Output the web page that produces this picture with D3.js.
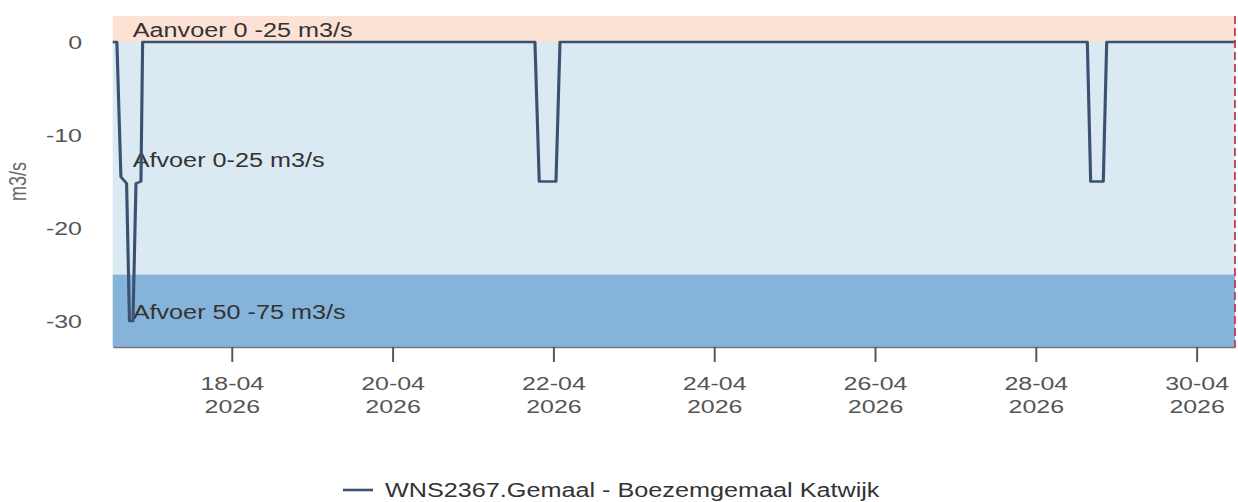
<!DOCTYPE html>
<html><head><meta charset="utf-8">
<script src="https://cdn.jsdelivr.net/npm/d3@7"></script>
<style>html,body{margin:0;padding:0;background:#fff;overflow:hidden}</style>
</head><body>
<svg id="chart" width="1238" height="502"></svg>
<script>
// ---- data ----
const times = [
  "2026-04-16T12:30","2026-04-16T13:45","2026-04-16T14:57","2026-04-16T16:39",
  "2026-04-16T17:30","2026-04-16T18:33","2026-04-16T19:27","2026-04-16T20:56",
  "2026-04-16T21:26","2026-04-21T18:32","2026-04-21T19:49","2026-04-22T00:49",
  "2026-04-22T02:01","2026-04-28T15:25","2026-04-28T16:25","2026-04-28T20:11",
  "2026-04-28T21:12","2026-04-30T11:30"
];
const values = [0,0,-14.5,-15.2,-30,-30,-15.2,-15,0,0,-15,-15,0,0,-15,-15,0,0];
const seriesName = "WNS2367.Gemaal - Boezemgemaal Katwijk";
const bandNames = ["Aanvoer 0 -25 m3/s","Afvoer 0-25 m3/s","Afvoer 50 -75 m3/s"];
const bandHigh = [25, 0, -25];
const bandLow = [0, -25, -75];
const bandColors = ["#fce2d5","#dbe9f2","#85b3d9"];
const xTickDates = ["2026-04-18","2026-04-20","2026-04-22","2026-04-24","2026-04-26","2026-04-28","2026-04-30"];
const yTicks = [0,-10,-20,-30];
const xDomain = ["2026-04-16T12:30","2026-04-30T11:30"];
const yDomain = [-32.8, 2.8];
const nowMarker = "2026-04-30T11:30";
const yLabel = "m3/s";

// ---- layout (viewBox stretched horizontally) ----
const S = 1.3;
const W = 1238 / S, H = 502;
const parse = d3.timeParse("%Y-%m-%dT%H:%M");
const parseDay = d3.timeParse("%Y-%m-%d");
const svg = d3.select("#chart").attr("viewBox", `0 0 ${W} ${H}`).attr("preserveAspectRatio","none");
const m = {left: 112.7 / S, right: 1235 / S, top: 16, bottom: 347};
const x = d3.scaleTime().domain(xDomain.map(parse)).range([m.left, m.right]);
const y = d3.scaleLinear().domain(yDomain).range([m.bottom, m.top]);
const font = "'Liberation Sans', Arial, sans-serif";

// bands
const clamp = v => Math.max(yDomain[0], Math.min(yDomain[1], v));
const bands = bandNames.map((n,i)=>({name:n, hi:clamp(bandHigh[i]), lo:clamp(bandLow[i]), color:bandColors[i]}));
svg.append("g").selectAll("rect").data(bands).join("rect")
  .attr("x", m.left).attr("width", m.right - m.left)
  .attr("y", d => y(d.hi)).attr("height", d => y(d.lo) - y(d.hi))
  .attr("fill", d => d.color);

// x axis
const xa = svg.append("g").attr("transform", `translate(0,${m.bottom})`)
  .call(d3.axisBottom(x).tickValues(xTickDates.map(parseDay)).tickSize(15).tickSizeOuter(0).tickFormat(""));
xa.select(".domain").attr("stroke","#777").attr("stroke-width",1.5);
xa.selectAll(".tick line").attr("stroke","#555").attr("stroke-width",1.5);
const fmt1 = d3.timeFormat("%d-%m"), fmt2 = d3.timeFormat("%Y");
xa.selectAll(".tick").append("text").attr("fill","#555").attr("font-family",font).attr("font-size",19.2)
  .attr("text-anchor","middle")
  .each(function(d){
    const t = d3.select(this);
    t.append("tspan").attr("x",0).attr("y",390 - m.bottom).text(fmt1(d));
    t.append("tspan").attr("x",0).attr("y",413 - m.bottom).text(fmt2(d));
  });

// y axis labels
const ya = svg.append("g").attr("transform", `translate(${82/S},0)`)
  .call(d3.axisLeft(y).tickValues(yTicks).tickSize(0).tickPadding(0).tickFormat(d => String(d)));
ya.select(".domain").remove();
ya.selectAll("text").attr("fill","#555").attr("font-family",font).attr("font-size",19.2).attr("dy","0.35em");

svg.append("text").attr("transform", `translate(${17.5/S},${(m.top+m.bottom)/2}) rotate(-90)`)
  .attr("text-anchor","middle").attr("dy","0.35em").attr("fill","#6a6a6a")
  .attr("font-family",font).attr("font-size",18).text(yLabel);

// band labels
svg.append("g").selectAll("text").data(bands).join("text")
  .attr("x", m.left + 20/S).attr("y", d => (y(d.hi)+y(d.lo))/2 + 1.5).attr("dy","0.35em")
  .attr("fill","#333").attr("font-family",font).attr("font-size",19.4).text(d => d.name);

// series line
const data = times.map((t,i)=>({t:parse(t), v:values[i]}));
svg.append("path").datum(data)
  .attr("fill","none").attr("stroke","#3a5172").attr("stroke-width",2.4).attr("stroke-linejoin","round")
  .attr("d", d3.line().x(d=>x(d.t)).y(d=>y(d.v)));

// now marker
svg.append("line").attr("x1", x(parse(nowMarker))).attr("x2", x(parse(nowMarker)))
  .attr("y1", m.top).attr("y2", m.bottom)
  .attr("stroke","#c0304a").attr("stroke-width",1.3).attr("stroke-dasharray","8,4");

// legend
const lg = svg.append("g");
lg.append("line").attr("x1",343/S).attr("x2",373/S).attr("y1",490).attr("y2",490)
  .attr("stroke","#3a5172").attr("stroke-width",2.6);
lg.append("text").attr("x",385/S).attr("y",490).attr("dy","0.35em").attr("fill","#333")
  .attr("font-family",font).attr("font-size",19.4).text(seriesName);
</script>
</body></html>
